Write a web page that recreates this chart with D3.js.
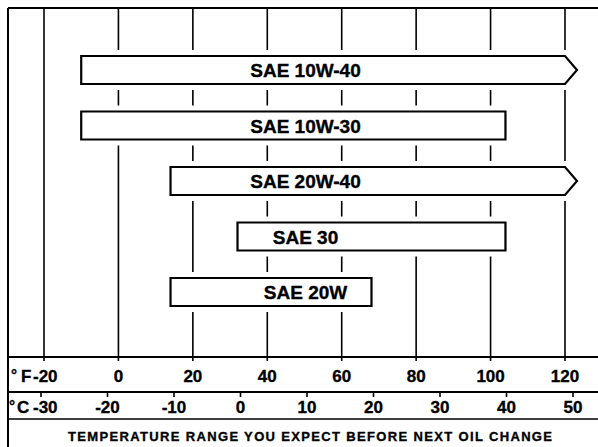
<!DOCTYPE html>
<html>
<head>
<meta charset="utf-8">
<script src="https://cdn.jsdelivr.net/npm/d3@7"></script>
<style>
  html, body { margin: 0; padding: 0; background: #fff; }
  svg { display: block; }
  text { font-family: "Liberation Sans", Arial, Helvetica, sans-serif; font-weight: bold; fill: #000; stroke: #000; stroke-width: 0.35px; }
</style>
</head>
<body>
<svg id="chart" width="598" height="447"></svg>
<script>
// ---- data ----
const categories = ["SAE 10W-40", "SAE 10W-30", "SAE 20W-40", "SAE 30", "SAE 20W"];
const lowF = [-10, -10, 14, 32, 14];
const highF = [120, 104, 120, 104, 68];
const openEnded = [true, false, true, false, false];
const fTicks = [-20, 0, 20, 40, 60, 80, 100, 120];
const cTicks = [-30, -20, -10, 0, 10, 20, 30, 40, 50];
const fUnit = "F";
const cUnit = "C";
const footer = "TEMPERATURE RANGE YOU EXPECT BEFORE NEXT OIL CHANGE";

// ---- layout ----
const W = 598, H = 447;
const frameL = 8, frameT = 8;
const fLineY = 357, cTopY = 392, cBotY = 419;
const barH = 28;

const svg = d3.select("#chart");

const x = d3.scaleLinear().domain([-20, 120]).range([44, 565]);
const xC = d3.scaleLinear().domain([-30, 50]).range([41, 573]);
const y = d3.scalePoint().domain(categories).range([70, 292]);

const rows = categories.map((c, i) => ({ name: c, lo: lowF[i], hi: highF[i], open: openEnded[i] }));

// frame lines
const g = svg.append("g").attr("stroke", "#000").attr("fill", "none");
g.append("line").attr("x1", frameL).attr("x2", W).attr("y1", frameT).attr("y2", frameT).attr("stroke-width", 2);
g.append("line").attr("x1", frameL).attr("x2", frameL).attr("y1", frameT).attr("y2", H).attr("stroke-width", 2);
g.append("line").attr("x1", frameL).attr("x2", W).attr("y1", fLineY).attr("y2", fLineY).attr("stroke-width", 2);
g.append("line").attr("x1", frameL).attr("x2", W).attr("y1", cTopY).attr("y2", cTopY).attr("stroke-width", 2);
g.append("line").attr("x1", frameL).attr("x2", W).attr("y1", cBotY).attr("y2", cBotY).attr("stroke-width", 1.5);

// vertical grid (F ticks)
g.selectAll("line.grid").data(fTicks).join("line")
  .attr("class", "grid")
  .attr("x1", d => x(d)).attr("x2", d => x(d))
  .attr("y1", frameT).attr("y2", fLineY + 4)
  .attr("stroke-width", 1.6);

// C ticks
g.selectAll("line.ctick").data(cTicks).join("line")
  .attr("class", "ctick")
  .attr("x1", d => xC(d)).attr("x2", d => xC(d))
  .attr("y1", cTopY).attr("y2", cTopY + 5)
  .attr("stroke-width", 1.6);

// bars
function barPath(d) {
  const x0 = x(d.lo), x1 = x(d.hi);
  const yt = y(d.name) - barH / 2, yb = y(d.name) + barH / 2, ym = y(d.name);
  if (d.open) {
    return `M${x0},${yt}L${x1},${yt}L${x1 + 12},${ym}L${x1},${yb}L${x0},${yb}Z`;
  }
  return `M${x0},${yt}L${x1},${yt}L${x1},${yb}L${x0},${yb}Z`;
}

const bars = svg.append("g");
// white knock-out behind bars so grid lines stop short of them
bars.selectAll("rect.pad").data(rows).join("rect")
  .attr("class", "pad")
  .attr("x", d => x(d.lo) - 2)
  .attr("y", d => y(d.name) - barH / 2 - 6)
  .attr("width", d => x(d.hi) - x(d.lo) + (d.open ? 16 : 4))
  .attr("height", barH + 12)
  .attr("fill", "#fff");

bars.selectAll("path.bar").data(rows).join("path")
  .attr("class", "bar")
  .attr("d", barPath)
  .attr("fill", "#fff")
  .attr("stroke", "#000")
  .attr("stroke-width", 2.2)
  .attr("stroke-linejoin", "miter");

bars.selectAll("text.lbl").data(rows).join("text")
  .attr("class", "lbl")
  .attr("x", x(50) + 1)
  .attr("y", d => y(d.name) + 7)
  .attr("text-anchor", "middle")
  .attr("font-size", 19)
  .text(d => d.name);

// F axis labels
const fl = svg.append("g").attr("font-size", 17);
fl.append("text").attr("x", 11).attr("y", 380).attr("font-size", 15).attr("stroke-width", 0).text("°");
fl.append("text").attr("x", 21).attr("y", 382).text(fUnit);
fl.selectAll("text.ft").data(fTicks).join("text")
  .attr("class", "ft")
  .attr("x", (d, i) => i === 0 ? 33 : x(d))
  .attr("y", 382)
  .attr("text-anchor", (d, i) => i === 0 ? "start" : "middle")
  .text(d => d);

// C axis labels
const cl = svg.append("g").attr("font-size", 17);
cl.append("text").attr("x", 9).attr("y", 411).attr("font-size", 15).attr("stroke-width", 0).text("°");
cl.append("text").attr("x", 17).attr("y", 413).text(cUnit);
cl.selectAll("text.ct").data(cTicks).join("text")
  .attr("class", "ct")
  .attr("x", (d, i) => i === 0 ? 33 : xC(d))
  .attr("y", 413)
  .attr("text-anchor", (d, i) => i === 0 ? "start" : "middle")
  .text(d => d);

// footer
svg.append("text")
  .attr("x", 68).attr("y", 441)
  .attr("font-size", 13)
  .attr("stroke-width", 0.3)
  .attr("textLength", 484)
  .attr("lengthAdjust", "spacing")
  .text(footer);
</script>
</body>
</html>
